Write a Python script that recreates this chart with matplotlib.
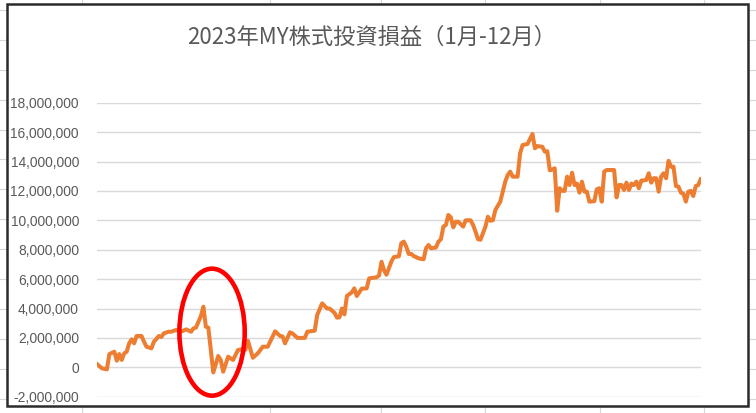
import matplotlib
matplotlib.use("Agg")
import matplotlib.pyplot as plt
from matplotlib.patches import Ellipse, Rectangle
from matplotlib.lines import Line2D
from matplotlib.ticker import FuncFormatter

# trading-day index and profit/loss (million yen)
days = [0, 2, 4, 5, 7, 8, 9, 10, 11, 12, 13, 14, 15, 16, 18, 19, 20, 22, 23, 25,
        26, 27, 29, 30, 32, 34, 36, 38, 39, 40, 42, 43, 44, 45, 47, 49, 50, 51, 53, 55,
        57, 59, 60, 61, 63, 65, 67, 69, 72, 74, 75, 76, 78, 79, 81, 84, 85, 88, 89, 91,
        93, 94, 96, 97, 98, 99, 100, 101, 103, 104, 105, 107, 109, 110, 113, 114, 115, 116, 117, 119,
        120, 122, 123, 124, 125, 126, 127, 128, 130, 132, 133, 134, 135, 137, 138, 139, 140, 141, 142, 143,
        144, 145, 146, 148, 149, 151, 152, 153, 154, 155, 157, 158, 159, 160, 161, 163, 164, 165, 166, 167,
        168, 170, 171, 172, 174, 176, 177, 178, 180, 181, 182, 183, 184, 185, 186, 187, 188, 189, 190, 191,
        192, 193, 194, 195, 196, 197, 198, 199, 201, 202, 203, 204, 205, 206, 209, 210, 211, 212, 213, 214,
        215, 216, 217, 218, 219, 220, 222, 223, 224, 225, 226, 227, 228, 229, 230, 231, 232, 233, 234, 235,
        236, 237, 238, 239, 240, 241, 242, 243, 244]
profit_m = [0.22, -0.07, -0.14, 0.9, 1.06, 0.45, 0.9, 0.5, 0.95, 1.06, 1.63, 1.9, 1.63, 2.13, 2.13, 1.74, 1.4, 1.29, 1.74, 2.13,
            2.06, 2.31, 2.42, 2.42, 2.54, 2.42, 2.58, 2.42, 2.65, 2.7, 3.49, 4.12, 2.76, 2.7, -0.35, 0.77, 0.5, -0.3, 0.72, 0.5,
            1.18, 1.24, 1.2, 1.8, 0.65, 0.95, 1.4, 1.4, 2.45, 2.13, 2.1, 1.63, 2.38, 2.3, 2.0, 2.0, 2.42, 2.49, 3.56, 4.35,
            4.0, 4.0, 3.7, 3.38, 3.4, 4.0, 3.6, 4.85, 5.1, 5.37, 4.85, 5.35, 5.37, 6.05, 6.12, 6.25, 7.18, 6.6, 6.3, 7.2,
            7.5, 7.55, 8.44, 8.55, 8.2, 7.71, 7.71, 7.57, 7.41, 7.35, 8.1, 8.32, 8.1, 8.15, 8.55, 8.71, 9.57, 9.68, 10.36, 10.2,
            9.52, 9.9, 9.9, 9.57, 10.0, 10.0, 9.68, 9.22, 8.71, 8.68, 9.57, 10.24, 9.97, 10.0, 10.7, 11.27, 11.95, 12.63, 13.08, 13.31,
            12.97, 12.97, 14.56, 15.12, 15.19, 15.87, 14.9, 15.05, 15.0, 14.67, 14.7, 13.4, 13.45, 13.54, 10.65, 12.18, 12.01, 12.0, 12.97, 12.4,
            13.24, 12.4, 12.5, 11.88, 12.63, 11.95, 11.95, 11.27, 11.3, 12.11, 12.18, 11.27, 13.31, 13.42, 13.42, 11.56, 12.4, 12.4, 12.06, 12.56,
            12.06, 12.5, 12.4, 12.63, 12.18, 12.7, 12.74, 13.2, 12.56, 12.86, 12.86, 11.95, 12.97, 13.2, 12.86, 14.05, 13.65, 13.65, 12.33, 12.29,
            11.88, 11.81, 11.27, 11.95, 12.0, 11.65, 12.33, 12.4, 12.79]
profit = [v * 1e6 for v in profit_m]

title = "2023年MY株式投資損益（1月-12月）"
y_ticks = list(range(-2000000, 18000001, 2000000))

W, H = 756, 413
fig = plt.figure(figsize=(W / 100, H / 100), dpi=100)

# spreadsheet cell lines behind the chart
for yy in range(14):
    y = 10 + 29.9 * yy
    fig.add_artist(Line2D([0, 1], [1 - y / H] * 2, transform=fig.transFigure,
                          color="#d6d6d6", lw=0.8, zorder=-3))
for x in [82, 270, 381, 485, 600, 704]:
    fig.add_artist(Line2D([x / W] * 2, [0, 1], transform=fig.transFigure,
                          color="#d6d6d6", lw=0.8, zorder=-3))
# chart area
fig.add_artist(Rectangle((7 / W, 1 - 406 / H), 741 / W, 402 / H, transform=fig.transFigure,
                         facecolor="white", edgecolor="none", zorder=-2))
fig.add_artist(Rectangle((7 / W, 1 - 406 / H), 741 / W, 402 / H, transform=fig.transFigure,
                         facecolor="none", edgecolor="#2b2b2b", lw=1.8, zorder=5))

ax = fig.add_axes([97 / W, 1 - 396.7 / H, (700.7 - 97) / W, (396.7 - 102.7) / H])
ax.set_facecolor("none")
ax.plot(days, profit, color="#ED7D31", lw=2.9, solid_joinstyle="round")

ax.set_xlim(0, 244)
ax.set_ylim(-2000000, 18000000)
ax.set_yticks(y_ticks)
ax.yaxis.set_major_formatter(FuncFormatter(lambda v, p: f"{int(v):,}"))
ax.set_xticks([])
ax.grid(axis="y", color="#d9d9d9", lw=1)
ax.set_axisbelow(True)
for s in ax.spines.values():
    s.set_visible(False)
ax.tick_params(axis="y", length=0, pad=13, labelsize=9.9, labelcolor="#595959")
for lab in ax.get_yticklabels():
    lab.set_family("Liberation Sans")

# red circle marking the drop
ax.add_patch(Ellipse((46.5, 2.39e6), width=26.4, height=8.64e6, fill=False,
                     edgecolor="#FF0000", lw=3.3, clip_on=False, zorder=4))

fig.text(372 / W, 1 - 37 / H, title, ha="center", va="center", fontsize=16,
         color="#595959", family=["Noto Sans CJK JP", "DejaVu Sans"])

fig.savefig("out.png", dpi=100)
